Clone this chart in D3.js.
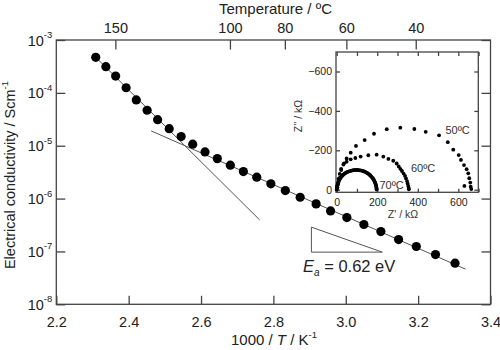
<!DOCTYPE html>
<html>
<head>
<meta charset="utf-8">
<script src="https://cdn.jsdelivr.net/npm/d3@7"></script>
<style>
  html, body { margin: 0; padding: 0; background: #fff; }
  svg { display: block; font-family: "Liberation Sans", Arial, Helvetica, sans-serif; }
  .frame { fill: none; stroke: #444; stroke-width: 1.3; }
  .axis path { display: none; }
  .axis line { stroke: #444; stroke-width: 1.3; }
  .axis text { fill: #222; font-family: "Liberation Sans", Arial, sans-serif; }
</style>
</head>
<body>
<svg id="chart" width="500" height="350"></svg>
<script>
// Arrhenius data: inverse temperature (1000/T, K^-1) and conductivity (S cm^-1)
const invT = [2.309, 2.337, 2.364, 2.393, 2.421, 2.451, 2.480, 2.512, 2.545, 2.577,
              2.611, 2.645, 2.681, 2.717, 2.754, 2.793, 2.833, 2.874, 2.918, 2.958,
              3.003, 3.050, 3.097, 3.146, 3.195, 3.248, 3.302];
const sigma = [4.71e-4, 3.13e-4, 2.08e-4, 1.25e-4, 7.35e-5, 4.69e-5, 3.11e-5, 2.10e-5, 1.49e-5, 1.07e-5,
               7.64e-6, 5.70e-6, 4.28e-6, 3.24e-6, 2.54e-6, 1.90e-6, 1.42e-6, 1.06e-6, 7.94e-7, 5.85e-7,
               4.38e-7, 3.23e-7, 2.38e-7, 1.68e-7, 1.24e-7, 8.73e-8, 6.01e-8];

// Linear fits (end points) for high- and low-temperature regions
const fitHighT = [[2.300, 5.43e-4], [2.762, 3.95e-7]];
const fitLowT  = [[2.462, 1.91e-5], [3.331, 4.62e-8]];
// Slope triangle for the activation energy
const slopeTriangle = [[2.905, 2.88e-7], [2.905, 9.7e-8], [3.101, 9.7e-8]];
const eaText = "0.62";

// Axis ticks
const xTicks = [2.2, 2.4, 2.6, 2.8, 3.0, 3.2, 3.4];
const yExponents = [-3, -4, -5, -6, -7, -8];
const tempTicks = [150, 100, 80, 60, 40];

// Impedance (Nyquist) inset: [Z' (kΩ), -Z'' (kΩ)]
const z50 = [[3,12],[8,35],[14,60],[22,100],[36,134],[49,159],[69,188],[95,222],[138,252],[184,284],
             [247,307],[314,315],[383,308],[439,294],[505,276],[548,241],[575,203],[602,176],[613,151],
             [628,125],[641,104],[649,83],[654,58],[659,36],[661,15],[664,3],[630,19]];
const z60 = [[2,8],[5,30],[9,55],[15,80],[22,105],[33,128],[49,142],[69,154],[92,161],[118,168],
             [156,175],[197,178],[230,168],[255,156],[279,147],[296,133],[306,118],[314,106],[322,95],
             [330,82],[337,70],[342,57],[347,44],[350,32],[353,19],[355,9],[356,2]];
const z70 = [[0,0],[1,8],[2,15],[4,22],[5,28],[7,34],[9,40],[11,46],[14,52],[17,57],[20,62],[24,67],
             [28,72],[32,76],[37,80],[42,84],[47,87],[52,90],[58,92],[64,94],[70,96],[77,98],[83,99],
             [90,100],[97,100],[104,100],[110,99],[117,98],[123,97],[129,95],[135,93],[141,90],
             [147,87],[152,84],[157,80],[162,76],[166,72],[170,68],[174,63],[178,58],[181,53],
             [184,48],[187,42],[189,37],[191,31],[193,26],[194,20],[195,15],[196,10],[197,5],[197,1]];
const zTicksX = [0, 200, 400, 600];
const zTicksY = [0, 200, 400, 600];
const insetLabels = ["50ºC", "60ºC", "70ºC"];

const svg = d3.select("#chart");

// ---------- main plot ----------
const x = d3.scaleLinear().domain([2.2, 3.4]).range([56.3, 490.5]);
const y = d3.scaleLog().domain([1e-8, 1e-3]).range([304.3, 40]);
const invFromC = c => 1000 / (c + 273.15);

const L = x.range()[0], R = x.range()[1], T = y.range()[1], B = y.range()[0];

// bottom axis (ticks pointing inward)
const gB = svg.append("g").attr("class", "axis").attr("transform", `translate(0,${B})`)
  .call(d3.axisBottom(x).tickValues(xTicks).tickSize(-8.5).tickPadding(12)
        .tickFormat(d3.format(".1f")));
gB.selectAll("text").attr("font-size", 14.5).attr("dy", "0.71em");

// top axis: temperature in ºC
const gT = svg.append("g").attr("class", "axis").attr("transform", `translate(0,${T})`)
  .call(d3.axisTop(x).tickValues(tempTicks.map(invFromC)).tickSize(-9.5).tickPadding(7)
        .tickFormat((d, i) => tempTicks[i]));
gT.selectAll("text").attr("font-size", 14.5);

// left axis with power-of-ten labels
const gL = svg.append("g").attr("class", "axis").attr("transform", `translate(${L},0)`)
  .call(d3.axisLeft(y).tickValues(yExponents.map(e => Math.pow(10, e))).tickSize(-9).tickPadding(5)
        .tickFormat(""));
gL.selectAll(".tick").each(function(d) {
  const e = Math.round(Math.log10(d));
  const t = d3.select(this).append("text").attr("x", -4).attr("y", 5)
    .attr("text-anchor", "end").attr("font-size", 14.5).attr("fill", "#222");
  t.append("tspan").text("10");
  t.append("tspan").attr("font-size", 9.5).attr("dy", -7.5).text(String(e));
});

// right axis ticks
svg.append("g").attr("class", "axis").attr("transform", `translate(${R},0)`)
  .call(d3.axisRight(y).tickValues(yExponents.map(e => Math.pow(10, e))).tickSize(-9).tickFormat(""));

// frame
svg.append("rect").attr("class", "frame")
  .attr("x", L).attr("y", T).attr("width", R - L).attr("height", B - T);

// fit lines
const line = d3.line().x(d => x(d[0])).y(d => y(d[1]));
[fitHighT, fitLowT].forEach(f => {
  svg.append("path").attr("d", line(f)).attr("fill", "none")
    .attr("stroke", "#555").attr("stroke-width", 1);
});

// data points
svg.append("g").selectAll("circle").data(invT.map((v, i) => [v, sigma[i]])).join("circle")
  .attr("cx", d => x(d[0])).attr("cy", d => y(d[1])).attr("r", 4.6).attr("fill", "#000");

// slope triangle
svg.append("path").attr("d", line(slopeTriangle) + "Z").attr("fill", "none")
  .attr("stroke", "#555").attr("stroke-width", 1);

// activation energy label
const ea = svg.append("text").attr("x", 303).attr("y", 272).attr("font-size", 16.5).attr("fill", "#222");
ea.append("tspan").attr("font-style", "italic").text("E");
ea.append("tspan").attr("font-style", "italic").attr("font-size", 10).attr("dy", 4).text("a");
ea.append("tspan").attr("dy", -4).text(` = ${eaText} eV`);

// axis titles
const xt = svg.append("text").attr("x", 274).attr("y", 345).attr("text-anchor", "middle")
  .attr("font-size", 15).attr("fill", "#222");
xt.append("tspan").text("1000 / ");
xt.append("tspan").attr("font-style", "italic").text("T");
xt.append("tspan").text(" / K");
xt.append("tspan").attr("font-size", 9.5).attr("dy", -7).text("-1");

svg.append("text").attr("x", 275.5).attr("y", 14).attr("text-anchor", "middle")
  .attr("font-size", 15).attr("fill", "#222").text("Temperature / ºC");

const yt = svg.append("text").attr("transform", "translate(15,175) rotate(-90)")
  .attr("text-anchor", "middle").attr("font-size", 14.5).attr("fill", "#222");
yt.append("tspan").text("Electrical conductivity / Scm");
yt.append("tspan").attr("font-size", 9.5).attr("dy", -7).text("-1");

// ---------- inset: Nyquist plot ----------
const zx = d3.scaleLinear().domain([0, 700]).range([336.7, 478.6]);
const zy = d3.scaleLinear().domain([0, 700]).range([189.7, 51.8]);
const iL = 336, iR = 478.3, iT = 52, iB = 192.3;

svg.append("rect").attr("x", iL).attr("y", iT).attr("width", iR - iL).attr("height", iB - iT)
  .attr("fill", "#fff");

const insetTicksX = d3.range(0, 701, 100);
svg.append("g").attr("class", "axis").attr("transform", `translate(0,${iB})`)
  .call(d3.axisBottom(zx).tickValues(insetTicksX).tickSize(-3.5).tickFormat(""));
svg.append("g").attr("class", "axis").attr("transform", `translate(0,${iT})`)
  .call(d3.axisTop(zx).tickValues(insetTicksX).tickSize(-4).tickFormat(""));
const gzx = svg.append("g").attr("class", "axis").attr("transform", `translate(0,${iB})`)
  .call(d3.axisBottom(zx).tickValues(zTicksX).tickSize(0).tickPadding(6).tickFormat(d3.format("d")));
gzx.selectAll("text").attr("font-size", 10.5).attr("fill", "#333");

const gzy = svg.append("g").attr("class", "axis").attr("transform", `translate(${iL},0)`)
  .call(d3.axisLeft(zy).tickValues(zTicksY).tickSize(-4).tickPadding(4)
        .tickFormat(d => d === 0 ? "0" : "\u2212" + d));
gzy.selectAll("text").attr("font-size", 10.5).attr("fill", "#333");
svg.append("g").attr("class", "axis").attr("transform", `translate(${iR},0)`)
  .call(d3.axisRight(zy).tickValues(zTicksY).tickSize(-4).tickFormat(""));

svg.append("rect").attr("class", "frame")
  .attr("x", iL).attr("y", iT).attr("width", iR - iL).attr("height", iB - iT);

// impedance arcs
[z70, z60, z50].forEach(set => {
  svg.append("g").selectAll("circle").data(set).join("circle")
    .attr("cx", d => zx(d[0])).attr("cy", d => zy(d[1])).attr("r", 1.9).attr("fill", "#000");
});

// temperature labels on the arcs
const labelPos = [[445.5, 133.5], [411, 172], [379.5, 189]];
insetLabels.forEach((t, i) => {
  svg.append("text").attr("x", labelPos[i][0]).attr("y", labelPos[i][1])
    .attr("font-size", 11).attr("fill", "#333").text(t);
});

// inset axis titles
svg.append("text").attr("x", 403).attr("y", 218).attr("text-anchor", "middle")
  .attr("font-size", 10.5).attr("fill", "#333").text("Z' / kΩ");
svg.append("text").attr("transform", "translate(301.5,116) rotate(-90)").attr("text-anchor", "middle")
  .attr("font-size", 10.5).attr("fill", "#333").text("Z'' / kΩ");
</script>
</body>
</html>
